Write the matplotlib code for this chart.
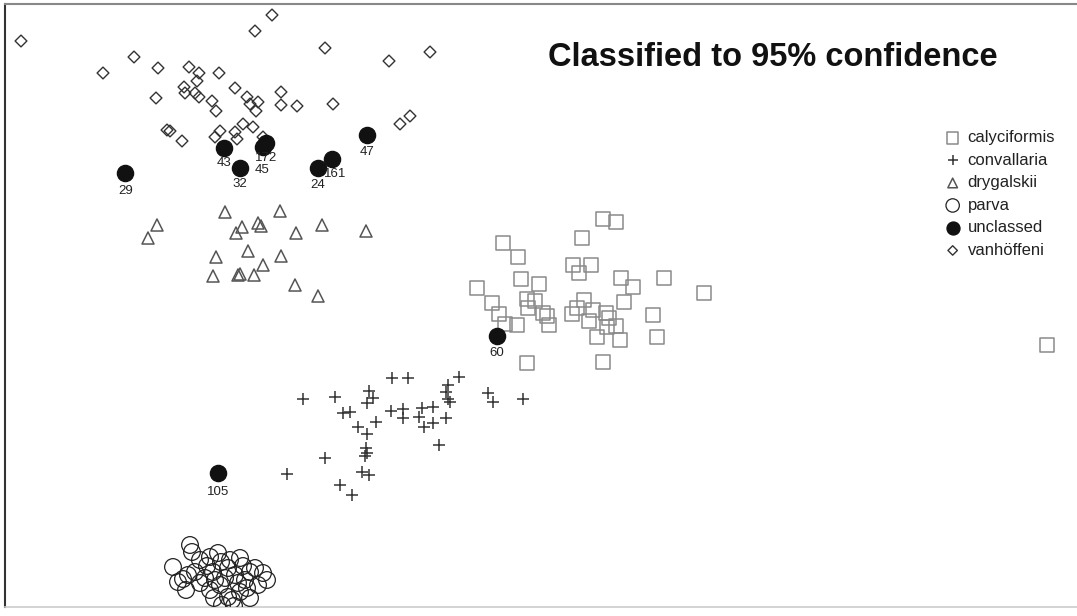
import numpy as np
import matplotlib.pyplot as plt

plt.rcParams['font.family'] = ['Liberation Sans', 'DejaVu Sans']

# canonical scores (plot units), one pair of arrays per group
calyc_x = [603, 616, 503, 582, 518, 573, 591, 579, 521, 539, 477, 621, 633, 664, 704,
           492, 527, 535, 528, 584, 624, 499, 543, 547, 549, 577, 572, 593, 589, 606,
           609, 616, 607, 505, 517, 597, 620, 653, 657, 527, 603, 1047]
calyc_y = [219, 222, 243, 238, 257, 265, 265, 273, 279, 284, 288, 278, 287, 278, 293,
           303, 299, 301, 308, 300, 302, 314, 313, 316, 325, 308, 314, 310, 321, 313,
           318, 326, 327, 324, 325, 337, 340, 315, 337, 363, 362, 345]

conv_x = [303, 335, 369, 373, 367, 392, 408, 343, 350, 391, 403, 403, 376, 358, 367,
          366, 367, 365, 325, 287, 362, 369, 340, 352, 422, 433, 419, 424, 433, 446,
          439, 448, 450, 448, 459, 446, 488, 493, 523]
conv_y = [399, 397, 391, 398, 403, 378, 378, 413, 412, 411, 409, 418, 422, 427, 434,
          448, 453, 456, 458, 474, 472, 475, 485, 495, 408, 407, 417, 427, 423, 418,
          445, 399, 402, 385, 377, 392, 393, 402, 399]

dryg_x = [225, 280, 157, 148, 258, 261, 242, 236, 322, 366, 296, 216, 248, 281, 263,
          213, 238, 240, 254, 295, 318]
dryg_y = [212, 211, 225, 238, 223, 226, 227, 233, 225, 231, 233, 257, 251, 256, 265,
          276, 275, 274, 275, 285, 296]

parva_x = [190, 192, 218, 173, 183, 200, 207, 213, 221, 228, 235, 243, 250, 255, 263,
           267, 247, 228, 232, 240, 220, 210, 200, 195, 188, 205, 215, 225, 238, 245,
           258, 230, 240, 210, 178, 222, 234, 214, 250, 186]
parva_y = [545, 552, 553, 567, 579, 560, 566, 572, 562, 568, 575, 566, 572, 568, 573,
           580, 588, 597, 600, 592, 585, 590, 583, 572, 575, 578, 580, 578, 583, 580,
           585, 560, 558, 557, 582, 605, 606, 598, 598, 590]

uncl_x = [125, 224, 240, 266, 263, 318, 332, 367, 497, 218]
uncl_y = [173, 148, 168, 143, 147, 168, 159, 135, 336, 473]
uncl_id = ['29', '43', '32', '172', '45', '24', '161', '47', '60', '105']
# label offsets below each point
uncl_dx = [1, 0, 0, 0, -1, 0, 3, 0, 0, 0]
uncl_dy = [18, 15, 16, 15, 23, 17, 15, 17, 17, 19]

vanh_x = [21, 103, 134, 158, 189, 199, 219, 197, 184, 185, 195, 199, 156, 212, 216,
          167, 170, 182, 220, 215, 272, 255, 325, 389, 430, 235, 281, 247, 258, 250,
          256, 281, 297, 333, 410, 400, 243, 253, 235, 237, 263]
vanh_y = [41, 73, 57, 68, 67, 73, 73, 81, 87, 93, 93, 97, 98, 101, 111,
          130, 131, 141, 131, 137, 15, 31, 48, 61, 52, 88, 92, 97, 102, 104,
          111, 105, 106, 104, 116, 124, 124, 127, 132, 139, 137]

fig = plt.figure(figsize=(10.77, 6.16), dpi=100)
ax = fig.add_axes([5 / 1077, 1 - 607 / 616, 1072 / 1077, 603 / 616])

ax.scatter(calyc_x, calyc_y, s=100, marker='s', facecolors='none',
           edgecolors='#8a8a8a', linewidths=1.1, label='calyciformis', zorder=2)
ax.scatter(conv_x, conv_y, s=80, marker='+', color='#333333',
           linewidths=1.1, label='convallaria', zorder=3)
ax.scatter(dryg_x, dryg_y, s=75, marker='^', facecolors='none',
           edgecolors='#555555', linewidths=1.1, label='drygalskii', zorder=3)
ax.scatter(parva_x, parva_y, s=145, marker='o', facecolors='none',
           edgecolors='#222222', linewidths=0.9, label='parva', zorder=3)
ax.scatter(uncl_x, uncl_y, s=135, marker='o', color='#111111',
           label='unclassed', zorder=5)
ax.scatter(vanh_x, vanh_y, s=36, marker='D', facecolors='none',
           edgecolors='#333333', linewidths=1.0, label='vanhöffeni', zorder=3)

for x, y, t, dx, dy in zip(uncl_x, uncl_y, uncl_id, uncl_dx, uncl_dy):
    ax.text(x + dx, y + dy, t, ha='center', va='center', fontsize=9.5,
            color='#222222', zorder=6)

ax.set_xlim(5, 1077)
ax.set_ylim(607, 4)
ax.set_xticks([])
ax.set_yticks([])

ax.spines['left'].set_color('#333333')
ax.spines['left'].set_linewidth(1.5)
ax.spines['top'].set_color('#888888')
ax.spines['top'].set_linewidth(1.5)
ax.spines['bottom'].set_color('#cccccc')
ax.spines['bottom'].set_linewidth(1.2)
ax.spines['right'].set_visible(False)

ax.text(773, 58, 'Classified to 95% confidence', ha='center', va='center',
        fontsize=23.5, fontweight='bold', color='#111111')

leg = ax.legend(loc='upper left', bbox_to_anchor=(936 / 1077, 1 - 122 / 616),
                bbox_transform=fig.transFigure, frameon=False, fontsize=12,
                markerscale=0.8, handlelength=1.0, handletextpad=0.4,
                labelspacing=0.45, borderpad=0)
for txt in leg.get_texts():
    txt.set_color('#222222')

fig.savefig('out.png', dpi=100)
